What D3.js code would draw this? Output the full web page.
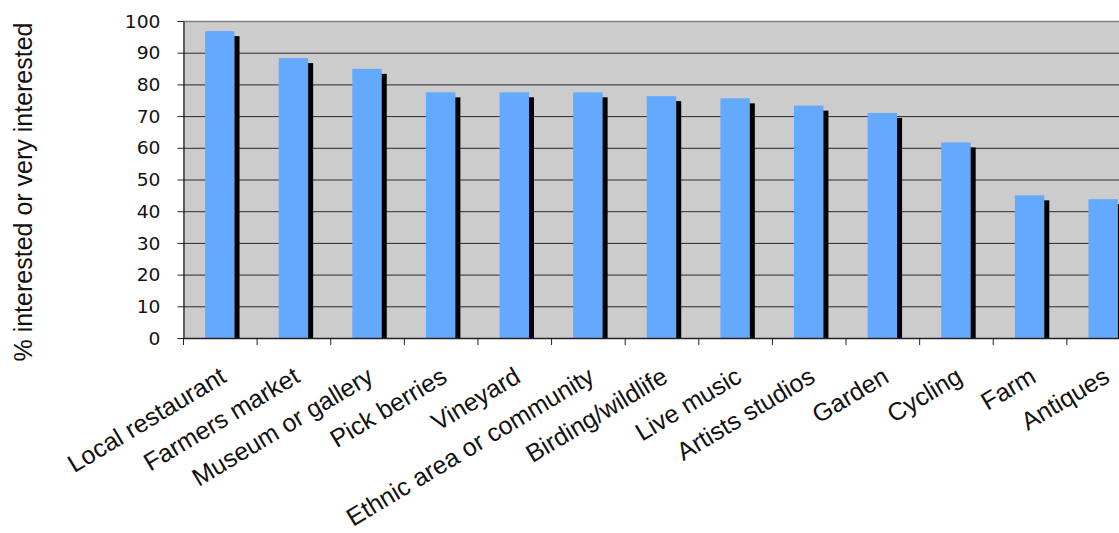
<!DOCTYPE html>
<html>
<head>
<meta charset="utf-8">
<script src="https://cdn.jsdelivr.net/npm/d3@7"></script>
<style>
  html, body { margin: 0; padding: 0; background: #fff; }
  svg { display: block; }
</style>
</head>
<body>
<svg id="chart" width="1119" height="533"></svg>
<script>
const categories = ["Local restaurant", "Farmers market", "Museum or gallery", "Pick berries", "Vineyard",
  "Ethnic area or community", "Birding/wildlife", "Live music", "Artists studios", "Garden",
  "Cycling", "Farm", "Antiques"];
const values = [96.8, 88.3, 84.9, 77.5, 77.5, 77.5, 76.3, 75.6, 73.3, 71.0, 61.7, 45.0, 43.8];
const yTicks = [0, 10, 20, 30, 40, 50, 60, 70, 80, 90, 100];
const yLabel = "% interested or very interested";

const svg = d3.select("#chart");
const pLeft = 183, pTop = 21, pBottom = 338, pRight = 1140;

const x = d3.scaleBand().domain(categories).range([pLeft, pRight]).paddingInner(0.6).paddingOuter(0.3);
const y = d3.scaleLinear().domain([0, 100]).range([pBottom, pTop]);

svg.append("rect").attr("width", 1119).attr("height", 533).attr("fill", "#fff");

// plot background
svg.append("rect").attr("x", pLeft).attr("y", pTop).attr("width", pRight - pLeft).attr("height", pBottom - pTop)
  .attr("fill", "#cccccc");

// gridlines
svg.append("g").selectAll("line").data(yTicks.filter(d => d > 0)).join("line")
  .attr("x1", pLeft).attr("x2", pRight)
  .attr("y1", d => y(d) + 0.5).attr("y2", d => y(d) + 0.5)
  .attr("stroke", d => d === 100 ? "#808080" : "#2a2a2a").attr("stroke-width", d => d === 100 ? 1.5 : 1);

svg.append("clipPath").attr("id", "plotclip").append("rect")
  .attr("x", pLeft).attr("y", pTop).attr("width", pRight - pLeft).attr("height", pBottom - pTop);

const bars = svg.append("g").attr("clip-path", "url(#plotclip)");
// shadows
bars.selectAll("rect.shadow").data(categories).join("rect").attr("class", "shadow")
  .attr("x", d => x(d) + 5).attr("y", (d, i) => y(values[i]) + 5)
  .attr("width", x.bandwidth()).attr("height", (d, i) => pBottom - y(values[i]))
  .attr("fill", "#000");
// bars
bars.selectAll("rect.bar").data(categories).join("rect").attr("class", "bar")
  .attr("x", d => x(d)).attr("y", (d, i) => y(values[i]))
  .attr("width", x.bandwidth()).attr("height", (d, i) => pBottom - y(values[i]))
  .attr("fill", "#63a9ff");

// y axis
const yAxis = d3.axisLeft(y).tickValues(yTicks).tickSize(6).tickPadding(17).tickSizeOuter(0);
const gy = svg.append("g").attr("transform", `translate(${pLeft + 0.5},0)`).call(yAxis);
gy.select(".domain").attr("stroke", "#222").attr("stroke-width", 1.3);
gy.selectAll(".tick line").attr("stroke", "#222");
gy.selectAll(".tick text")
  .attr("font-family", "DejaVu Sans, Verdana, sans-serif").attr("font-size", 17).attr("fill", "#111")
  .attr("dy", "0.36em")
  .each(function() {
    const t = d3.select(this);
    const xx = +t.attr("x");
    t.attr("x", null).attr("transform", `translate(${xx},0) scale(1.1,1)`);
  });

// x axis with ticks at band boundaries
const boundaries = categories.map((c, i) => pLeft + i * x.step());
const gx = svg.append("g");
gx.append("line").attr("x1", pLeft).attr("x2", pRight).attr("y1", pBottom + 0.5).attr("y2", pBottom + 0.5)
  .attr("stroke", "#222").attr("stroke-width", 1.3);
gx.selectAll("line.tk").data(boundaries).join("line").attr("class", "tk")
  .attr("x1", d => d + 0.5).attr("x2", d => d + 0.5).attr("y1", pBottom).attr("y2", pBottom + 7)
  .attr("stroke", "#222");

// category labels
svg.append("g").selectAll("text").data(categories).join("text")
  .attr("transform", d => `translate(${x(d) + x.bandwidth() / 2 + 8},381) rotate(-31)`)
  .attr("text-anchor", "end")
  .attr("font-family", "Liberation Sans, Arial, sans-serif").attr("font-size", 25).attr("fill", "#111")
  .text(d => d);

// y label
svg.append("text")
  .attr("transform", `translate(32,192) rotate(-90)`)
  .attr("text-anchor", "middle")
  .attr("font-family", "Liberation Sans, Arial, sans-serif").attr("font-size", 25).attr("fill", "#111")
  .text(yLabel);
</script>
</body>
</html>
